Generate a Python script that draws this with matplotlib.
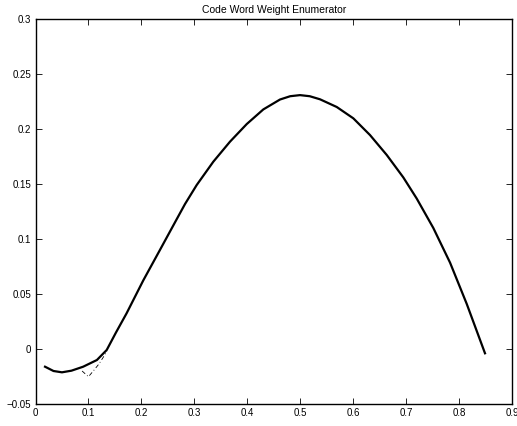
import matplotlib
matplotlib.use("Agg")
import matplotlib.pyplot as plt

plt.rcParams['font.family'] = ['Liberation Sans', 'DejaVu Sans']

# Main (solid) curve
x_main = [0.018, 0.034, 0.050, 0.068, 0.090, 0.116, 0.1345, 0.152, 0.172, 0.2036,
          0.235, 0.2667, 0.2824, 0.3045, 0.3359, 0.3674, 0.399, 0.4303, 0.4618,
          0.481, 0.4996, 0.518, 0.5374, 0.569, 0.6003, 0.6318, 0.6634, 0.6947,
          0.720, 0.7514, 0.783, 0.8145, 0.849]
y_main = [-0.0161, -0.0200, -0.0212, -0.0197, -0.0161, -0.0100, -0.0009, 0.0150,
          0.0324, 0.0624, 0.0900, 0.1180, 0.1318, 0.1491, 0.1703, 0.1885, 0.2045,
          0.2178, 0.2268, 0.2298, 0.2308, 0.2298, 0.2270, 0.2200, 0.2097, 0.1945,
          0.1764, 0.1560, 0.1368, 0.1100, 0.0785, 0.0410, -0.0039]

# Dashed branch
x_dash = [0.088, 0.100, 0.110, 0.120, 0.128, 0.135]
y_dash = [-0.020, -0.0252, -0.0195, -0.0135, -0.0075, -0.002]

x_ticks = [0, 0.1, 0.2, 0.3, 0.4, 0.5, 0.6, 0.7, 0.8, 0.9]
x_labels = ['0', '0.1', '0.2', '0.3', '0.4', '0.5', '0.6', '0.7', '0.8', '0.9']
y_ticks = [-0.05, 0, 0.05, 0.1, 0.15, 0.2, 0.25, 0.3]
y_labels = ['\u22120.05', '0', '0.05', '0.1', '0.15', '0.2', '0.25', '0.3']

fig = plt.figure(figsize=(5.17, 4.26), dpi=100)
ax = fig.add_axes([35.5/517, 22/426, (512-35.5)/517, (404-19)/426])

ax.plot(x_dash, y_dash, color='black', lw=0.6, linestyle=(0, (5, 3, 1, 3)))
ax.plot(x_main, y_main, color='black', lw=1.6, solid_joinstyle='round')

ax.set_xlim(0, 0.9)
ax.set_ylim(-0.05, 0.3)
ax.set_xticks(x_ticks)
ax.set_xticklabels(x_labels)
ax.set_yticks(y_ticks)
ax.set_yticklabels(y_labels)
ax.tick_params(direction='in', length=4, width=0.6, labelsize=7, top=True, right=True, pad=3)
for s in ax.spines.values():
    s.set_linewidth(1.0)
ax.set_title('Code Word Weight Enumerator', fontsize=7.5, pad=4)

fig.savefig('out.png', dpi=100)
